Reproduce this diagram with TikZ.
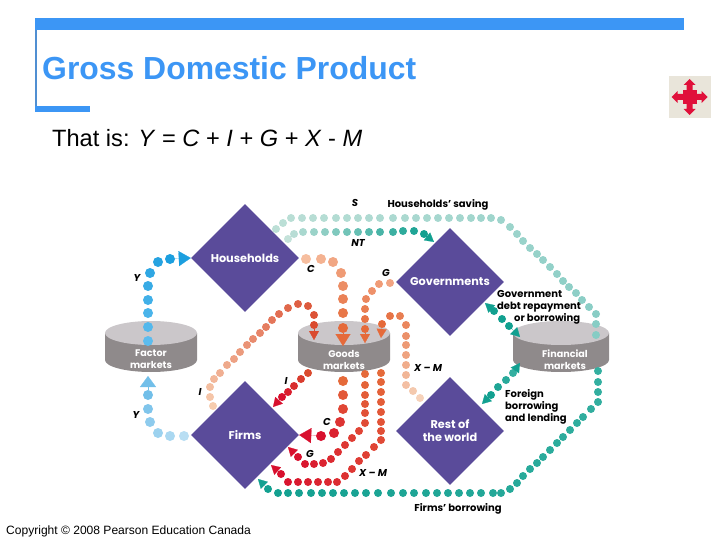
\documentclass[tikz,border=0pt]{standalone}
\usepackage{fontspec}
\setmainfont{Liberation Sans}
\newfontfamily\flowfont{Poppins}
\usetikzlibrary{arrows.meta,positioning,shapes.geometric}
\definecolor{titleblue}{HTML}{3C96F5}
\definecolor{sectorpurple}{HTML}{5A4B9A}
\definecolor{cyltop}{HTML}{CBC7CA}
\definecolor{cylside}{HTML}{8F8A8B}
\definecolor{iconred}{HTML}{E0103A}
\definecolor{iconbeige}{HTML}{E9E5DA}
\definecolor{flowteal}{HTML}{12A090}
\definecolor{borrowteal}{HTML}{34AFA0}
\definecolor{savinglight}{HTML}{BCDFD6}
\definecolor{savingdark}{HTML}{86CCC4}
\definecolor{taxlight}{HTML}{C4E2DA}
\definecolor{incomelight}{HTML}{5CBCEE}
\definecolor{incomedark}{HTML}{1C9FDF}
\definecolor{factorlight}{HTML}{B8DEF3}
\definecolor{factordark}{HTML}{72BFE9}
\definecolor{conslight}{HTML}{F6BE9F}
\definecolor{goodsorange}{HTML}{E56A3A}
\definecolor{firmred}{HTML}{D8102E}
\definecolor{invlight}{HTML}{F6CCAE}
\definecolor{invdark}{HTML}{DA4A2E}
\definecolor{govlight}{HTML}{F2A482}
\definecolor{netlight}{HTML}{F6D2BA}

% dots of one flow, colour running from #2 to #3
\newcommand{\flowdots}[4]{%
  \foreach \px/\py [count=\n] in {#4} {\xdef\flowcount{\n}}
  \foreach \px/\py [count=\n] in {#4} {
    \pgfmathtruncatemacro\pct{100*(\n-1)/(\flowcount-1)}
    \node[flowdot,fill=#3!\pct!#2] (#1\n) at (\px,\py) {};
  }}

\begin{document}
\begin{tikzpicture}[x=1pt,y=-1pt,on grid,
    sector/.style={diamond,fill=sectorpurple,inner sep=0pt,minimum size=108pt,
      text=white,align=center,font=\flowfont\bfseries\fontsize{11.3}{13}\selectfont},
    market/.style={inner sep=0pt,text=white,align=center,
      font=\flowfont\bfseries\fontsize{9.6}{12}\selectfont},
    flowdot/.style={circle,inner sep=0pt,minimum size=8pt},
    flowlabel/.style={font=\flowfont\bfseries\fontsize{10}{12}\selectfont,align=left},
    flowvar/.style={font=\flowfont\bfseries\itshape\fontsize{10}{12}\selectfont},
    flowtip/.style={line width=.2pt,-{Triangle[length=9pt,width=10pt]}},
    bigtip/.style={line width=.2pt,-{Triangle[length=12pt,width=15pt]}},
  ]
  \useasboundingbox (0,0) rectangle (720,540);

  % heading
  \fill[titleblue] (35,18) rectangle (684,30);
  \fill[titleblue!70!gray] (35,30) rectangle (37,106);
  \fill[titleblue] (35,106) rectangle (90,112);
  \node[anchor=base west,inner sep=0pt,text=titleblue,font=\bfseries\fontsize{31.9}{36}\selectfont] (heading) at (42,80) {Gross Domestic Product};
  \node[anchor=base west,inner sep=0pt,font=\fontsize{23.6}{28}\selectfont] (equation) at (52,147) {That is: \textit{Y} = \textit{C} + \textit{I} + \textit{G} + \textit{X} - \textit{M}};
  \node[anchor=base west,inner sep=0pt,font=\fontsize{12.05}{14}\selectfont] (copyright) at (6,534) {Copyright © 2008 Pearson Education Canada};

  % icon
  \node[fill=iconbeige,minimum size=42pt,inner sep=0pt] (iconbox) at (689.5,97) {};
  \fill[iconred] ([shift={(-7,-7)}]iconbox.center) rectangle ([shift={(7,7)}]iconbox.center);
  \foreach \a in {0,90,180,270}
    \fill[iconred,shift={(iconbox.center)},rotate=\a] (0,-3) -- (12,-3) -- (12,-6) -- (18,0) -- (12,6) -- (12,3) -- (0,3) -- cycle;

  % sectors
  \node[sector] (households) at (245,258) {Households};
  \node[sector] (firms) [below=177pt of households] {Firms};
  \node[sector] (governments) at (450,282) {Governments};
  \node[sector] (rest) [below=149pt of governments] {Rest of\\the world};

  % markets
  \foreach \m/\cx/\r in {factor/151/46,goods/344/46,financial/561/48} {
    \fill[cylside] (\cx-\r,333) -- (\cx-\r,360) arc[start angle=180,end angle=360,x radius=\r pt,y radius=12pt] -- (\cx+\r,333) -- cycle;
    \fill[cyltop] (\cx,333) ellipse[x radius=\r pt,y radius=12pt];
    \node[inner sep=0pt,minimum width=2*\r pt,minimum height=51pt] (\m) at (\cx,346.5) {};
  }
  \node[market] (factorname) at (151,359.5) {Factor\\markets};
  \node[market] (goodsname) at (344,359.5) {Goods\\markets};
  \node[market] (financialname) at (565,359.5) {Financial\\markets};

  % tips of the flows
  \coordinate (goodsC) at (343,346);
  \coordinate (goodsI) at (314,340);
  \coordinate (goodsG) at (365,343);
  \coordinate (goodsX) at (381,338);
  \coordinate (factorY) at (148,376);
  \coordinate (firmsI) at (273,407);
  \coordinate (firmsG) at (288,447);
  \coordinate (firmsX) at (271,465);
  \coordinate (firmsB) at (258,479);
  \coordinate (govNT) at (434,242);
  \coordinate (govD) at (485,303);
  \coordinate (finD) at (520,337);
  \coordinate (finF) at (520,363);
  \coordinate (restF) at (482,404);

  % saving and taxes
  \flowdots{s}{savinglight}{savingdark}{276/229,283/223,291/218,302/218,313/218,324/218,336/218,347/218,358/218,369/218,380/218,393/218,405/218,416/218,427/218,438/218,449/218,460/218,471/218,481/218,491/218,501/220,510/227,517/234,523/241,530/248,537/254,543/260,550/267,557/274,563/281,569/287,576/293,582/300,589/307,596/314,596/324,596/335}
  \flowdots{nt}{taxlight}{flowteal}{288/239,294/234,303/232,314/232,325/232,336/232,347/232,358/232,369/232,380/232,393/232,403/231,414/231,424/234}
  \draw[flowtip,flowteal] (nt14) -- (govNT);

  % income
  \begin{scope}[flowdot/.append style={minimum size=10pt}]
    \flowdots{ya}{incomelight}{incomedark}{148/341,148/327,148/313,148/300,148/286,150/273,158/262,170/259}
    \flowdots{yb}{factorlight}{factordark}{184/436,170/436,158/433,150/422,148/409,148/395}
    \flowdots{ca}{conslight}{goodsorange}{306/259,321/259,333/262,341/273,343/286,343/299,343/313,343/328}
    \flowdots{cb}{goodsorange}{firmred}{343/381,343/395,343/409,340/422,334/433,321/436}
  \end{scope}
  \draw[bigtip,incomedark] (ya8) -- (households.west);
  \draw[bigtip,factordark,-{Triangle[length=11pt,width=16pt]}] (yb6) -- (factorY);
  \draw[bigtip,goodsorange] (ca8) -- (goodsC);
  \draw[bigtip,firmred] (cb6) -- (firms.east);

  % investment
  \flowdots{ia}{invlight}{invdark}{213/406,210/397,210/387,214/379,220/373,227/365,234/359,240/352,247/345,253/339,260/333,266/327,272/320,279/314,288/308,298/304,308/306,314/315,314/325}
  \draw[flowtip,invdark] (ia19) -- (goodsI);
  \flowdots{ib}{invdark}{firmred}{308/373,301/379,294/386,288/392,282/397}
  \draw[flowtip,firmred] (ib5) -- (firmsI);

  % government purchases
  \flowdots{ga}{govlight}{goodsorange}{390/283,379/284,372/291,366/299,365/309,365/319,365/329}
  \draw[flowtip,goodsorange] (ga7) -- (goodsG);
  \flowdots{gb}{goodsorange}{firmred}{365/374,365/385,365/395,365/404,365/413,365/423,359/431,352/438,345/445,338/452,331/459,323/463,314/464,305/464,298/457}
  \draw[flowtip,firmred] (gb15) -- (firmsG);

  % net exports
  \flowdots{xa}{netlight}{goodsorange}{420/398,413/391,406/385,406/375,406/365,406/355,406/345,406/336,406/325,400/316,390/316,382/324}
  \draw[flowtip,goodsorange] (xa12) -- (goodsX);
  \flowdots{xb}{goodsorange}{firmred}{381/373,381/382,381/392,381/402,381/412,381/422,381/431,381/440,374/447,366/455,359/461,352/469,345/476,337/482,328/482,318/482,308/482,298/482,288/482,281/474}
  \draw[flowtip,firmred] (xb20) -- (firmsX);

  % borrowing
  \flowdots{fb}{borrowteal}{flowteal}{598/371,598/382,598/392,598/402,591/409,583/417,577/423,570/430,563/437,557/443,550/450,543/457,537/463,530/469,523/476,517/483,510/489,501/493,493/493,481/493,470/493,459/493,448/493,437/493,426/493,414/493,403/493,391/493,378/493,366/493,355/493,344/493,333/493,322/493,311/493,299/493,288/493,278/493,268/489}
  \draw[flowtip,flowteal] (fb39) -- (firmsB);
  \flowdots{gd}{flowteal}{flowteal}{494/311,502/319,509/326}
  \draw[flowtip,flowteal] (gd1) -- (govD);
  \draw[flowtip,flowteal] (gd3) -- (finD);
  \flowdots{ff}{borrowteal}{flowteal}{513/373,506/380,498/387,491/395}
  \draw[flowtip,flowteal] (ff1) -- (finF);
  \draw[flowtip,flowteal] (ff4) -- (restF);

  % labels
  \node[flowvar] (labelS) at (355,203) {S};
  \node[flowlabel] (labelsaving) at (438,204.5) {Households’ saving};
  \node[flowvar] (labelNT) at (358,243) {NT};
  \node[flowvar] (labelC) at (311,269) {C};
  \node[flowvar] (labelG) at (386,273) {G};
  \node[flowvar] (labelY) at (137,278) {Y};
  \node[flowvar] (labelI) at (200,392) {I};
  \node[flowvar] (labelYb) at (136,415) {Y};
  \node[flowvar] (labelIb) at (286,381) {I};
  \node[flowvar] (labelCb) at (327,422) {C};
  \node[flowvar] (labelGb) at (310,454) {G};
  \node[flowvar] (labelXa) at (428,367.5) {X – M};
  \node[flowvar] (labelXb) at (373,472.5) {X – M};
  \node[flowlabel] (labelfirmsb) at (458,508.5) {Firms’ borrowing};
  \node[flowlabel,anchor=west,inner sep=0pt] (labelforeign) at (505,407) {Foreign\\borrowing\\and lending};
  \node[flowlabel,anchor=west,inner sep=0pt] (labelgov) at (497,307) {Government\\debt repayment\\\hspace*{17pt}or borrowing};
\end{tikzpicture}
\end{document}
